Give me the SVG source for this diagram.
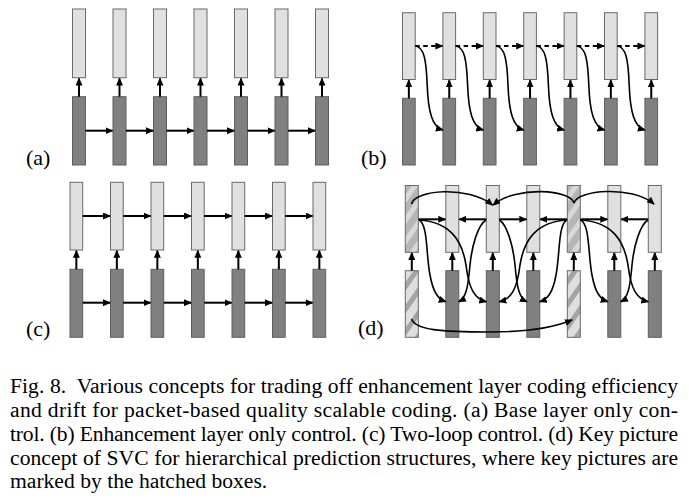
<svg xmlns="http://www.w3.org/2000/svg" width="689" height="503" viewBox="0 0 689 503">
<defs>
<style>
.lb{fill:#e0e0e0;stroke:#6a6a6a;stroke-width:1}
.db{fill:#808080;stroke:#5e5e5e;stroke-width:1}
.kl{fill:url(#hatchL);stroke:#6a6a6a;stroke-width:1}
.kd{fill:url(#hatchD);stroke:#6a6a6a;stroke-width:1}
.ar{stroke:#000;stroke-width:2;fill:none;marker-end:url(#ah)}
.ds{stroke:#000;stroke-width:2;fill:none;stroke-dasharray:4.5 3.5;marker-end:url(#ah)}
.cv{stroke:#000;stroke-width:1.6;fill:none;marker-end:url(#ah)}
.lab{font-size:22px;fill:#000}
.cap{font-size:21.6px;fill:#000}
</style>
<marker id="ah" markerUnits="userSpaceOnUse" markerWidth="8" markerHeight="7" refX="7" refY="3.5" orient="auto">
<path d="M0,0 L8,3.5 L0,7 z" fill="#000"/>
</marker>
<pattern id="hatchL" patternUnits="userSpaceOnUse" width="12" height="12" patternTransform="rotate(35)">
<rect width="12" height="12" fill="#b6b6b6"/>
<rect width="5" height="12" fill="#d8d8d8"/>
</pattern>
<pattern id="hatchD" patternUnits="userSpaceOnUse" width="13" height="13" patternTransform="rotate(35)">
<rect width="13" height="13" fill="#dedede"/>
<rect width="5" height="13" fill="#a4a4a4"/>
</pattern>
</defs>
<rect width="689" height="503" fill="#fff"/>

<!-- Panel (a) -->
<g id="panel-a">
<g id="a-enh">
<rect class="lb" x="72.5" y="9" width="13" height="68.7"/>
<rect class="lb" x="113" y="9" width="13" height="68.7"/>
<rect class="lb" x="153.5" y="9" width="13" height="68.7"/>
<rect class="lb" x="194" y="9" width="13" height="68.7"/>
<rect class="lb" x="234.5" y="9" width="13" height="68.7"/>
<rect class="lb" x="275" y="9" width="13" height="68.7"/>
<rect class="lb" x="315.5" y="9" width="13" height="68.7"/>
</g>
<g id="a-base">
<rect class="db" x="72.5" y="96.7" width="13" height="68.3"/>
<rect class="db" x="113" y="96.7" width="13" height="68.3"/>
<rect class="db" x="153.5" y="96.7" width="13" height="68.3"/>
<rect class="db" x="194" y="96.7" width="13" height="68.3"/>
<rect class="db" x="234.5" y="96.7" width="13" height="68.3"/>
<rect class="db" x="275" y="96.7" width="13" height="68.3"/>
<rect class="db" x="315.5" y="96.7" width="13" height="68.3"/>
</g>
<text class="lab" x="26" y="165" font-family="'Liberation Serif', 'DejaVu Serif', serif">(a)</text>
</g>
<g id="a-connectors">
<path class="ar" d="M79,96.7 V78.5"/>
<path class="ar" d="M119.5,96.7 V78.5"/>
<path class="ar" d="M160,96.7 V78.5"/>
<path class="ar" d="M200.5,96.7 V78.5"/>
<path class="ar" d="M241,96.7 V78.5"/>
<path class="ar" d="M281.5,96.7 V78.5"/>
<path class="ar" d="M322,96.7 V78.5"/>
<path class="ar" d="M85.5,130.7 H112.5"/>
<path class="ar" d="M126,130.7 H153"/>
<path class="ar" d="M166.5,130.7 H193.5"/>
<path class="ar" d="M207,130.7 H234"/>
<path class="ar" d="M247.5,130.7 H274.5"/>
<path class="ar" d="M288,130.7 H315"/>
</g>

<!-- Panel (b) -->
<g id="panel-b">
<g id="b-enh">
<rect class="lb" x="402.5" y="12.7" width="12.7" height="66.8"/>
<rect class="lb" x="442.9" y="12.7" width="12.7" height="66.8"/>
<rect class="lb" x="483.3" y="12.7" width="12.7" height="66.8"/>
<rect class="lb" x="523.7" y="12.7" width="12.7" height="66.8"/>
<rect class="lb" x="564.1" y="12.7" width="12.7" height="66.8"/>
<rect class="lb" x="604.5" y="12.7" width="12.7" height="66.8"/>
<rect class="lb" x="644.9" y="12.7" width="12.7" height="66.8"/>
</g>
<g id="b-base">
<rect class="db" x="402.5" y="98.3" width="12.7" height="66.7"/>
<rect class="db" x="442.9" y="98.3" width="12.7" height="66.7"/>
<rect class="db" x="483.3" y="98.3" width="12.7" height="66.7"/>
<rect class="db" x="523.7" y="98.3" width="12.7" height="66.7"/>
<rect class="db" x="564.1" y="98.3" width="12.7" height="66.7"/>
<rect class="db" x="604.5" y="98.3" width="12.7" height="66.7"/>
<rect class="db" x="644.9" y="98.3" width="12.7" height="66.7"/>
</g>
<text class="lab" x="361" y="165" font-family="'Liberation Serif', 'DejaVu Serif', serif">(b)</text>
</g>
<g id="b-connectors">
<path class="ar" d="M408.85,98.3 V80.3"/>
<path class="ar" d="M449.25,98.3 V80.3"/>
<path class="ar" d="M489.65,98.3 V80.3"/>
<path class="ar" d="M530.05,98.3 V80.3"/>
<path class="ar" d="M570.45,98.3 V80.3"/>
<path class="ar" d="M610.85,98.3 V80.3"/>
<path class="ar" d="M651.25,98.3 V80.3"/>
<path class="ds" d="M415.2,46 H442.4"/>
<path class="ds" d="M455.6,46 H482.8"/>
<path class="ds" d="M496,46 H523.2"/>
<path class="ds" d="M536.4,46 H563.6"/>
<path class="ds" d="M576.8,46 H604"/>
<path class="ds" d="M617.2,46 H644.4"/>
<path class="cv" d="M415.2,46 C424.2,47 426.2,60 427.2,85 C428.2,112 432.2,127 442.9,130"/>
<path class="cv" d="M455.6,46 C464.6,47 466.6,60 467.6,85 C468.6,112 472.6,127 483.3,130"/>
<path class="cv" d="M496,46 C505,47 507,60 508,85 C509,112 513,127 523.7,130"/>
<path class="cv" d="M536.4,46 C545.4,47 547.4,60 548.4,85 C549.4,112 553.4,127 564.1,130"/>
<path class="cv" d="M576.8,46 C585.8,47 587.8,60 588.8,85 C589.8,112 593.8,127 604.5,130"/>
<path class="cv" d="M617.2,46 C626.2,47 628.2,60 629.2,85 C630.2,112 634.2,127 644.9,130"/>
</g>

<!-- Panel (c) -->
<g id="panel-c">
<g id="c-enh">
<rect class="lb" x="70" y="182.3" width="12.7" height="67.7"/>
<rect class="lb" x="110.5" y="182.3" width="12.7" height="67.7"/>
<rect class="lb" x="151" y="182.3" width="12.7" height="67.7"/>
<rect class="lb" x="191.5" y="182.3" width="12.7" height="67.7"/>
<rect class="lb" x="232" y="182.3" width="12.7" height="67.7"/>
<rect class="lb" x="272.5" y="182.3" width="12.7" height="67.7"/>
<rect class="lb" x="313" y="182.3" width="12.7" height="67.7"/>
</g>
<g id="c-base">
<rect class="db" x="70" y="269.3" width="12.7" height="68"/>
<rect class="db" x="110.5" y="269.3" width="12.7" height="68"/>
<rect class="db" x="151" y="269.3" width="12.7" height="68"/>
<rect class="db" x="191.5" y="269.3" width="12.7" height="68"/>
<rect class="db" x="232" y="269.3" width="12.7" height="68"/>
<rect class="db" x="272.5" y="269.3" width="12.7" height="68"/>
<rect class="db" x="313" y="269.3" width="12.7" height="68"/>
</g>
<text class="lab" x="26" y="336" font-family="'Liberation Serif', 'DejaVu Serif', serif">(c)</text>
</g>
<g id="c-connectors">
<path class="ar" d="M76.35,269.3 V250.8"/>
<path class="ar" d="M116.85,269.3 V250.8"/>
<path class="ar" d="M157.35,269.3 V250.8"/>
<path class="ar" d="M197.85,269.3 V250.8"/>
<path class="ar" d="M238.35,269.3 V250.8"/>
<path class="ar" d="M278.85,269.3 V250.8"/>
<path class="ar" d="M319.35,269.3 V250.8"/>
<path class="ar" d="M82.7,216 H110"/>
<path class="ar" d="M123.2,216 H150.5"/>
<path class="ar" d="M163.7,216 H191"/>
<path class="ar" d="M204.2,216 H231.5"/>
<path class="ar" d="M244.7,216 H272"/>
<path class="ar" d="M285.2,216 H312.5"/>
<path class="ar" d="M82.7,302.7 H110"/>
<path class="ar" d="M123.2,302.7 H150.5"/>
<path class="ar" d="M163.7,302.7 H191"/>
<path class="ar" d="M204.2,302.7 H231.5"/>
<path class="ar" d="M244.7,302.7 H272"/>
<path class="ar" d="M285.2,302.7 H312.5"/>
</g>

<!-- Panel (d) -->
<g id="panel-d">
<g id="d-enh">
<rect class="kl" x="405.3" y="185.5" width="13" height="66.8"/>
<rect class="lb" x="445.8" y="185.5" width="13" height="66.8"/>
<rect class="lb" x="486.3" y="185.5" width="13" height="66.8"/>
<rect class="lb" x="526.8" y="185.5" width="13" height="66.8"/>
<rect class="kl" x="567.3" y="185.5" width="13" height="66.8"/>
<rect class="lb" x="607.8" y="185.5" width="13" height="66.8"/>
<rect class="lb" x="648.3" y="185.5" width="13" height="66.8"/>
</g>
<g id="d-base">
<rect class="kd" x="405.3" y="270.7" width="13" height="66.6"/>
<rect class="db" x="445.8" y="270.7" width="13" height="66.6"/>
<rect class="db" x="486.3" y="270.7" width="13" height="66.6"/>
<rect class="db" x="526.8" y="270.7" width="13" height="66.6"/>
<rect class="kd" x="567.3" y="270.7" width="13" height="66.6"/>
<rect class="db" x="607.8" y="270.7" width="13" height="66.6"/>
<rect class="db" x="648.3" y="270.7" width="13" height="66.6"/>
</g>
<text class="lab" x="358" y="335" font-family="'Liberation Serif', 'DejaVu Serif', serif">(d)</text>
</g>
<g id="d-connectors">
<path class="ar" d="M411.8,270.7 V253"/>
<path class="ar" d="M452.3,270.7 V253"/>
<path class="ar" d="M492.8,270.7 V253"/>
<path class="ar" d="M533.3,270.7 V253"/>
<path class="ar" d="M573.8,270.7 V253"/>
<path class="ar" d="M614.3,270.7 V253"/>
<path class="ar" d="M654.8,270.7 V253"/>
<path class="ar" d="M418.3,219.3 H445.3"/>
<path class="ar" d="M486.3,219.3 H459.3"/>
<path class="ar" d="M499.3,219.3 H526.3"/>
<path class="ar" d="M567.3,219.3 H540.3"/>
<path class="ar" d="M580.3,219.3 H607.3"/>
<path class="ar" d="M648.3,219.3 H621.3"/>
<path class="cv" d="M411.5,204 C414,190 468,185 492.5,205"/>
<path class="cv" d="M574,203 C571,190 517,185 493.2,205"/>
<path class="cv" d="M574,203 C577,190 632,185 654,204"/>
<path class="cv" d="M419,220 C428,224 426,255 430,275 C433,292 438,299 445.8,301.7"/>
<path class="cv" d="M419,220 C450,222 462,240 466,265 C469,290 475,299 486.3,301.7"/>
<path class="cv" d="M486,220 C478,225 472,245 470,265 C468,288 466,298 458.8,301.7"/>
<path class="cv" d="M499.5,220 C507,225 513,245 515,265 C517,288 519,298 526.8,301.7"/>
<path class="cv" d="M567,220 C536,222 524,240 520,265 C517,290 511,299 499.3,301.7"/>
<path class="cv" d="M567,220 C558,224 560,255 556,275 C553,292 548,299 539.8,301.7"/>
<path class="cv" d="M580.5,220 C590,224 588,255 592,275 C595,292 600,299 607.8,301.7"/>
<path class="cv" d="M580.5,220 C612,222 624,240 628,265 C631,290 637,299 648.3,301.7"/>
<path class="cv" d="M648,220 C640,225 634,245 632,265 C630,288 628,298 620.8,301.7"/>
<path class="cv" d="M411.5,319 C416,330 440,332 490,332 C530,332 555,327 572,320"/>
</g>

<!-- Caption -->
<g id="caption" class="cap" font-family="'Liberation Serif', 'DejaVu Serif', serif">
<text x="10" y="393.3" textLength="668" lengthAdjust="spacing" xml:space="preserve">Fig. 8.  Various concepts for trading off enhancement layer coding efficiency</text>
<text x="10" y="417" textLength="668" lengthAdjust="spacing">and drift for packet-based quality scalable coding. (a) Base layer only con-</text>
<text x="10" y="440.8" textLength="668" lengthAdjust="spacing">trol. (b) Enhancement layer only control. (c) Two-loop control. (d) Key picture</text>
<text x="10" y="464.5" textLength="668" lengthAdjust="spacing">concept of SVC for hierarchical prediction structures, where key pictures are</text>
<text x="10" y="488.3">marked by the hatched boxes.</text>
</g>
</svg>
